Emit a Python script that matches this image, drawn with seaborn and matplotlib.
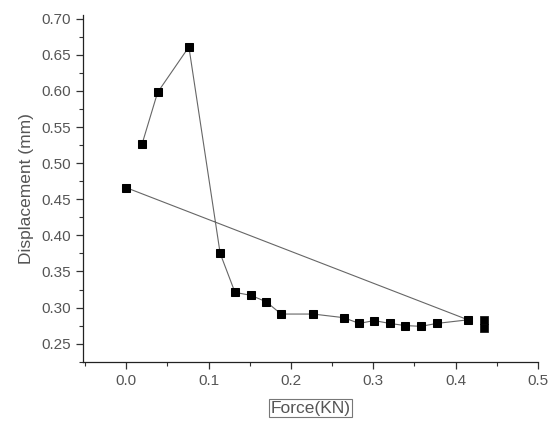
import numpy as np
import pandas as pd
import seaborn as sns
import matplotlib.pyplot as plt
from matplotlib.ticker import MultipleLocator

# connected series, in drawing order
force = [0.019, 0.038, 0.076, 0.114, 0.132, 0.151, 0.170, 0.188, 0.227, 0.264,
         0.283, 0.301, 0.320, 0.339, 0.339, 0.358, 0.377, 0.415, 0.0]
displacement = [0.526, 0.598, 0.661, 0.375, 0.321, 0.317, 0.308, 0.291, 0.291, 0.286,
                0.278, 0.282, 0.278, 0.277, 0.273, 0.274, 0.278, 0.283, 0.466]

# two end readings drawn as markers only
force_end = [0.435, 0.435]
displacement_end = [0.283, 0.272]

sns.set_style("ticks")
plt.rcParams['font.family'] = ['Liberation Sans', 'DejaVu Sans']

fig = plt.figure(figsize=(5.54, 4.21), dpi=100)
ax = fig.add_axes([0.150, 0.140, 0.821, 0.824])

df = pd.DataFrame({"Force": force, "Displacement": displacement})
sns.lineplot(data=df, x="Force", y="Displacement", sort=False, ax=ax,
             color="#666666", linewidth=0.8, marker="s", markersize=6,
             markerfacecolor="black", markeredgecolor="black")
sns.scatterplot(x=force_end, y=displacement_end, ax=ax, marker="s", s=36,
                color="black", edgecolor="black")

ax.set_xlim(-0.0525, 0.5)
ax.set_ylim(0.2245, 0.705)
ax.xaxis.set_major_locator(MultipleLocator(0.1))
ax.xaxis.set_minor_locator(MultipleLocator(0.05))
ax.yaxis.set_major_locator(MultipleLocator(0.05))
ax.yaxis.set_minor_locator(MultipleLocator(0.025))
ax.xaxis.set_major_formatter(plt.FuncFormatter(lambda v, p: f"{v:.1f}"))
ax.yaxis.set_major_formatter(plt.FuncFormatter(lambda v, p: f"{v:.2f}"))

ax.tick_params(which="major", length=5, width=0.9, color="#333333",
               labelsize=11, labelcolor="#555555")
ax.tick_params(which="minor", length=3, width=0.8, color="#333333")
for s in ("top", "right"):
    ax.spines[s].set_visible(False)
for s in ("left", "bottom"):
    ax.spines[s].set_color("#222222")
    ax.spines[s].set_linewidth(0.9)

ax.set_ylabel("Displacement (mm)", fontsize=12.5, color="#555555", va="center")
ax.yaxis.set_label_coords(-0.125, 0.5)
ax.set_xlabel("Force(KN)", fontsize=12.5, color="#555555", va="center",
              bbox=dict(boxstyle="square,pad=0.1", facecolor="white",
                        edgecolor="#777777", linewidth=0.8))
ax.xaxis.set_label_coords(0.5, -0.133)

fig.savefig("out.png", dpi=100)
